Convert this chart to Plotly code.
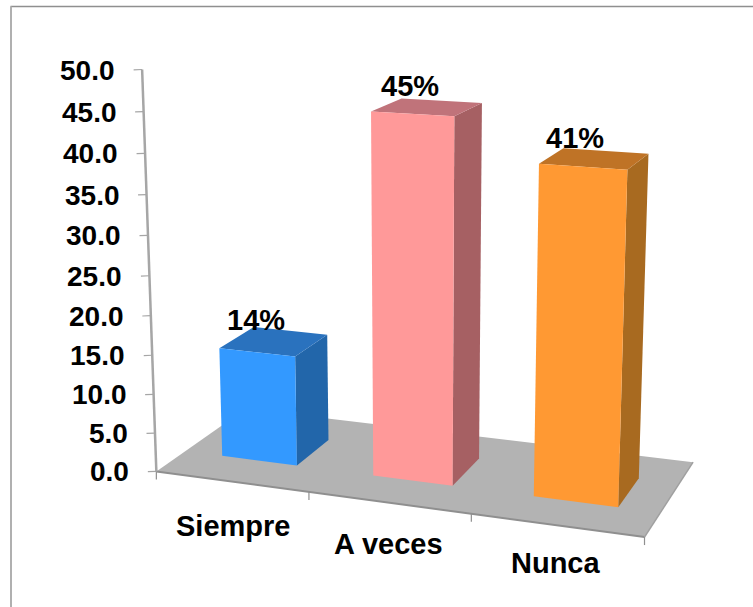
import numpy as np
import plotly.graph_objects as go

categories = ["Siempre", "A veces", "Nunca"]
values = [14.2, 45.2, 40.3]
labels = ["14%", "45%", "41%"]
yticks = [0, 5, 10, 15, 20, 25, 30, 35, 40, 45, 50]

W, H = 753, 607
# Camera of the tilted 3-D view: (category position, depth, value) -> page position
CAMERA = np.array([
    [143.2706, 114.2783, -0.4307493, 156.3496],
    [5.676895, -21.32261, -8.109468, 471.3987],
    [-0.03017953, 0.1011345, -0.001028911, 1.0],
])
HALF_WIDTH, DEPTH_FRONT, DEPTH_BACK, BAR_SHIFT = 0.2510978, 0.3036833, 0.6959919, 0.004329328
COLORS = [("#3399FF", "#2A72BE", "#2266AA"),
          ("#FF9999", "#C0737A", "#A66063"),
          ("#FF9933", "#BF7326", "#A86A20")]


def p3(x, y, z):
    h = CAMERA @ np.array([x, y, z, 1.0])
    return h[:2] / h[2]


fig = go.Figure()


def poly(pts, col):
    a = np.array(pts)
    fig.add_trace(go.Scatter(x=a[:, 0], y=a[:, 1], mode="lines", fill="toself", fillcolor=col,
                             line=dict(width=0, color=col), hoverinfo="skip"))


def line(pts, col, lw):
    a = np.array(pts)
    fig.add_trace(go.Scatter(x=a[:, 0], y=a[:, 1], mode="lines",
                             line=dict(width=lw, color=col), hoverinfo="skip"))


n = len(categories)
poly([p3(0, 0, 0), p3(n, 0, 0), p3(n, 1, 0), p3(0, 1, 0), p3(0, 0, 0)], "#B3B3B3")
y1, y2 = DEPTH_FRONT, DEPTH_BACK
for b, v in enumerate(values):
    x0 = b + .5 + BAR_SHIFT - HALF_WIDTH
    x1 = b + .5 + BAR_SHIFT + HALF_WIDTH
    f, t, s = COLORS[b]
    poly([p3(x1, y1, 0), p3(x1, y2, 0), p3(x1, y2, v), p3(x1, y1, v)], s)
    poly([p3(x0, y1, v), p3(x1, y1, v), p3(x1, y2, v), p3(x0, y2, v)], t)
    poly([p3(x0, y1, 0), p3(x1, y1, 0), p3(x1, y1, v), p3(x0, y1, v)], f)
line([p3(0, 0, 0), p3(n, 0, 0)], "#8F8F8F", 2)
line([p3(n, 0, 0), p3(n, 1, 0)], "#A0A0A0", 1.5)
line([p3(0, 0, 0), p3(0, 0, yticks[-1])], "#A6A6A6", 2.5)

ann = []
for t in yticks:
    a = p3(0, 0, t)
    line([a, a + np.array([-8.5, 0.3])], "#A6A6A6", 1.2)
    ann.append(dict(text="%.1f" % t, x=a[0] - 25, y=a[1] + 0.5, xanchor="right", yanchor="middle",
                    font=dict(size=28)))
for i in range(n + 1):
    a = p3(i, 0, 0)
    line([a, a + np.array([0, 8])], "#8F8F8F", 1.2)
for i, (name, ddx, ddy) in enumerate(zip(categories, [1.5, -0.5, -1], [44, 41, 38])):
    a = p3(i + .5, 0, 0)
    ann.append(dict(text=name, x=a[0] + ddx, y=a[1] + ddy, xanchor="center", yanchor="middle",
                    font=dict(size=29)))
for i, (name, v, ddx, ddy) in enumerate(zip(labels, values, [0, -2, -7], [-32, -28, -29])):
    a = p3(i + .5, y1, v)
    ann.append(dict(text=name, x=a[0] + ddx, y=a[1] + ddy, xanchor="center", yanchor="middle",
                    font=dict(size=29)))
for d in ann:
    d["font"].update(family="Liberation Sans", color="black", weight=700)
    d.update(showarrow=False, xref="x", yref="y")

fig.update_layout(width=W, height=H, margin=dict(l=0, r=0, t=0, b=0), showlegend=False,
                  paper_bgcolor="white", plot_bgcolor="white",
                  xaxis=dict(visible=False, range=[0, W]),
                  yaxis=dict(visible=False, range=[H, 0]),
                  annotations=ann,
                  shapes=[dict(type="line", x0=10.5, x1=W, y0=6.5, y1=6.5, line=dict(color="#8F8F8F", width=1.5)),
                          dict(type="line", x0=11, x1=11, y0=6.5, y1=H, line=dict(color="#B0B0B0", width=2))])
fig.write_html("out.html", config=dict(displayModeBar=False),
               post_script="document.body.style.margin='0';")
